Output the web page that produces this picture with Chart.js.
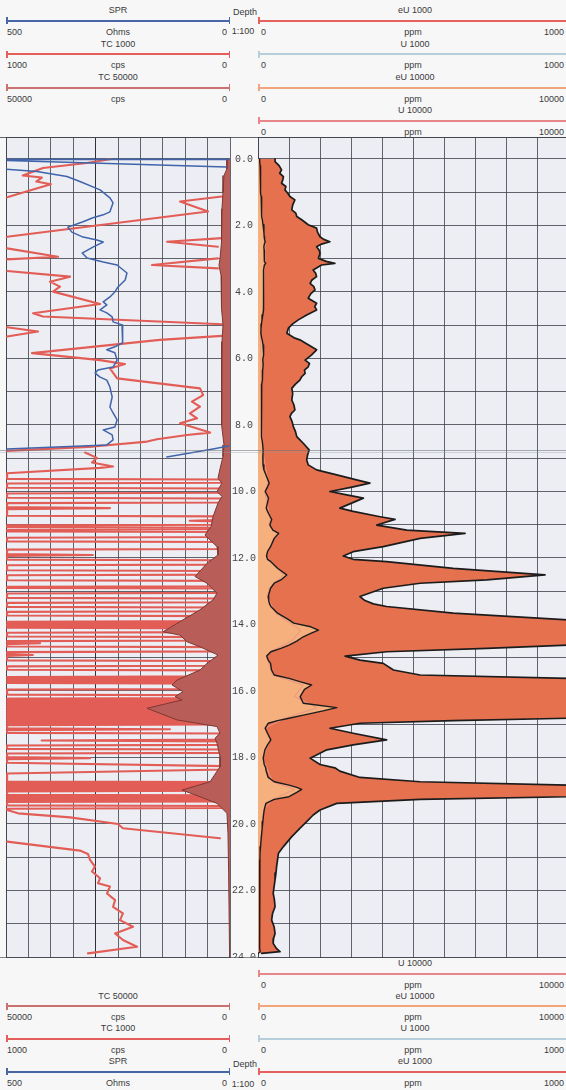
<!DOCTYPE html>
<html>
<head>
<meta charset="utf-8">
<script src="https://cdn.jsdelivr.net/npm/chart.js@4.4.1/dist/chart.umd.min.js"></script>
<style>
  html, body { margin: 0; padding: 0; }
  body {
    width: 566px; height: 1090px; overflow: hidden; position: relative;
    background: #f7f7f8; color: #3a3a3a;
    font-family: "Liberation Sans", Arial, sans-serif; font-size: 9px;
  }
  canvas { position: absolute; }
  .t { position: absolute; white-space: nowrap; line-height: 10px; }
  .bar, .tick, .rule { position: absolute; }
</style>
</head>
<body>
<canvas id="leftTrack" width="226" height="821" style="left:5px;top:137px"></canvas>
<canvas id="rightTrack" width="340" height="821" style="left:231px;top:137px"></canvas>
<script>
// ---------------- curve headers ----------------
const leftScales = [
  { name: 'SPR',      unit: 'Ohms', left: '500',   right: '0', color: '#4767a6' },
  { name: 'TC 1000',  unit: 'cps',  left: '1000',  right: '0', color: '#e45f5c' },
  { name: 'TC 50000', unit: 'cps',  left: '50000', right: '0', color: '#c9726e' }
];
const rightScales = [
  { name: 'eU 1000',  unit: 'ppm', left: '0', right: '1000',  color: '#e5625e' },
  { name: 'U 1000',   unit: 'ppm', left: '0', right: '1000',  color: '#b7cfdc' },
  { name: 'eU 10000', unit: 'ppm', left: '0', right: '10000', color: '#f2a57a' },
  { name: 'U 10000',  unit: 'ppm', left: '0', right: '10000', color: '#e8878a' }
];
const depthTitle = ['Depth', '1:100'];

// ---------------- depth grid (m) ----------------
const depthGrid = [0,1,2,3,4,5,6,7,8,9,10,11,12,13,14,15,16,17,18,19,20,21,22,23,24];

// ---------------- log curves: [depth m, value] ; [null,null] = pen lifted ----------------
const sprLog = [
  [0.02,3],[0.02,497],[null,null],[0.05,497],[0.24,8],[null,null],
  [0.31,499],[0.38,431],[0.53,364],[0.68,335],[0.93,290],[1.17,268],[1.32,261],[1.59,268],
  [1.68,283],[1.77,306],[1.89,328],[2.05,362],[2.20,353],[2.35,328],[2.44,297],[2.50,283],
  [2.65,306],[2.83,330],[2.98,319],[3.10,283],[3.19,252],[3.43,230],[3.64,234],[3.85,250],
  [4.00,257],[4.15,268],[4.30,283],[4.39,275],[4.54,290],[4.63,275],[4.75,263],[4.90,261],
  [4.99,241],[5.14,239],[5.35,239],[5.53,241],[5.65,257],[5.74,275],[5.83,257],[6.05,252],
  [6.26,261],[6.35,295],[6.44,301],[6.56,290],[6.65,275],[6.86,268],[7.16,263],[7.46,268],
  [7.64,261],[7.85,252],[8.06,257],[8.15,283],[8.30,263],[8.45,261],[8.60,275],[8.72,498],
  [null,null],[8.63,3],[8.72,38],[8.96,141]
];

const tc1000Log = [
  [0.01,536],[0.12,640],[0.27,835],[0.50,925],[0.56,840],[0.68,865],[0.76,800],[1.15,995],[null,null],
  [1.13,36],[1.28,223],[1.58,98],[2.34,995],[null,null],
  [2.38,36],[2.49,281],[2.64,54],[null,null],
  [2.69,995],[2.94,768],[3.02,995],[null,null],
  [2.99,54],[3.19,348],[3.29,54],[null,null],
  [3.37,995],[3.54,714],[3.69,804],[3.84,759],[3.99,790],[4.36,580],[4.64,879],[4.74,835],[4.97,36],[null,null],
  [5.06,995],[5.19,857],[5.34,995],[null,null],
  [5.32,36],[5.44,313],[5.84,884],[6.05,580],[6.17,469],[6.30,536],[6.60,504],[6.90,134],[7.10,120],
  [7.30,170],[7.45,134],[7.65,179],[7.80,147],[7.95,223],[8.23,89],[8.30,192],[8.43,326],[8.50,370],
  [8.65,610],[8.78,995],[null,null],
  [8.83,647],[8.99,594],[9.13,616],[9.25,522],[9.29,580],[9.45,995],
  [9.62,995],[9.64,20],[9.74,20],[9.76,995],[9.89,995],[9.91,20],[10.04,20],[10.06,995],
  [10.19,995],[10.21,20],[10.33,20],[10.35,995],[10.47,995],[10.50,536],[10.53,995],
  [10.73,995],[10.75,20],[10.85,20],[10.88,180],[10.91,20],[11.00,20],[11.02,995],
  [11.07,995],[11.09,20],[11.13,20],[11.15,995],[11.20,995],[11.22,20],[11.37,20],[11.39,995],
  [11.50,995],[11.52,20],[11.73,20],[11.75,995],[11.88,995],[11.91,612],[11.94,995],
  [12.05,995],[12.07,20],[12.20,20],[12.22,995],[12.37,995],[12.39,20],[12.50,20],[12.52,995],
  [12.67,995],[12.69,20],[12.85,20],[12.87,995],[12.90,995],[12.92,20],[13.05,20],[13.07,995],
  [13.20,995],[13.22,20],[13.33,20],[13.35,995],[13.47,995],[13.49,20],[13.60,20],[13.62,995],
  [13.73,995],[13.75,20],[13.90,20],[13.92,995],[13.94,995],[13.96,20],[13.98,20],[14.00,995],
  [14.02,995],[14.04,20],[14.06,20],[14.08,995],[14.10,995],[14.12,20],[14.23,20],[14.25,995],
  [14.36,995],[14.38,20],[14.48,20],[14.50,995],[14.53,995],[14.56,848],[14.59,995],
  [14.66,995],[14.68,20],[14.81,20],[14.83,995],[14.89,995],[14.92,880],[14.95,995],
  [15.08,995],[15.10,20],[15.24,20],[15.26,995],[15.36,995],[15.38,20],[15.56,20],[15.58,995],
  [15.60,995],[15.62,20],[15.64,20],[15.66,995],[15.68,995],[15.70,20],[15.72,20],[15.74,995],
  [15.76,995],[15.78,20],[15.94,20],[15.96,995],[16.11,995],[16.13,20],[16.21,20],[16.23,995],
  [16.25,995],[16.27,20],[16.29,20],[16.31,995],[16.33,995],[16.35,20],[16.37,20],[16.39,995],
  [16.41,995],[16.43,20],[16.45,20],[16.47,995],[16.49,995],[16.51,20],[16.53,20],[16.55,995],
  [16.57,995],[16.59,20],[16.61,20],[16.63,995],[16.65,995],[16.67,20],[16.69,20],[16.71,995],
  [16.73,995],[16.75,20],[16.77,20],[16.79,995],[16.81,995],[16.83,20],[16.85,20],[16.87,995],
  [16.89,995],[16.91,20],[16.93,20],[16.95,995],[16.97,995],[16.99,20],[17.01,20],[17.03,995],
  [17.12,995],[17.15,268],[17.18,995],[17.26,995],[17.28,20],[17.46,20],[17.49,841],[17.52,20],
  [17.62,20],[17.64,995],[17.74,995],[17.76,20],[17.86,20],[17.88,995],[17.99,995],[18.02,625],[18.05,995],
  [18.16,995],[18.26,20],[18.36,20],[18.48,995],[18.72,995],[18.74,20],[18.76,20],[18.78,995],
  [18.80,995],[18.82,20],[18.84,20],[18.86,995],[18.88,995],[18.90,20],[18.92,20],[18.94,995],
  [18.96,995],[18.98,20],[19.00,20],[19.02,995],[19.12,995],[19.14,20],[19.16,20],[19.18,995],
  [19.20,995],[19.22,20],[19.24,20],[19.26,995],[19.28,995],[19.30,20],[19.32,20],[19.34,995],
  [19.44,995],[19.46,20],[19.52,20],[19.54,995],
  [19.58,995],[19.68,946],[19.80,714],[20.00,500],[20.13,478],[20.43,45],[null,null],
  [20.53,995],[20.80,670],[20.90,634],[21.08,625],[21.28,603],[21.43,616],[21.63,580],[21.78,589],
  [21.88,536],[22.09,549],[22.29,513],[22.49,522],[22.69,478],[22.89,491],[23.09,433],[23.29,513],
  [23.49,478],[23.69,415],[23.89,634]
];

const tc50000Log = [
  [0.00,670],[0.30,700],[0.50,1340],[1.00,1560],[1.50,1790],[2.00,2000],[2.50,1790],[3.00,2230],
  [3.20,2450],[3.50,2000],[4.00,1790],[4.50,2000],[5.00,1560],[5.50,1790],[6.00,1790],[6.50,1900],
  [7.00,1790],[7.50,1900],[8.00,2000],[8.60,1340],[8.95,1560],[9.30,2200],[9.60,2680],[9.75,1790],
  [10.00,2900],[10.15,1790],[10.35,2680],[10.76,3800],[11.05,4200],[11.31,5580],[11.66,2900],
  [11.91,2680],[12.16,5130],[12.56,7810],[12.76,5130],[13.06,2900],[13.26,3800],[13.56,6700],
  [13.86,10490],[14.22,14950],[14.32,11160],[14.52,9600],[14.67,6700],[14.92,2680],[15.17,5130],
  [15.37,6700],[15.67,11830],[15.82,12950],[16.02,10490],[16.17,12280],[16.27,10710],[16.52,18530],
  [16.87,11830],[17.07,2900],[17.27,2230],[17.42,3350],[17.57,2900],[17.97,2230],[18.28,2230],
  [18.73,4460],[18.98,10710],[19.18,6700],[19.38,2900],[19.68,670],[20.28,450],[21.50,300],
  [23.88,100],[24.00,100]
];

const euLog = [
  [0.00,55],[0.08,55],[0.20,68],[0.33,76],[0.43,70],[0.53,82],[0.63,80],[0.73,76],[0.83,90],[0.93,87],
  [1.03,96],[1.13,103],[1.23,119],[1.38,112],[1.53,109],[1.63,122],[1.73,125],[1.83,141],[1.98,162],
  [2.08,189],[2.20,192],[2.34,200],[2.42,212],[2.49,232],[2.56,205],[2.64,189],[2.74,197],[2.84,200],
  [2.99,195],[3.08,220],[3.14,248],[3.19,205],[3.34,178],[3.44,186],[3.54,189],[3.64,174],[3.74,168],
  [3.84,180],[3.94,184],[4.06,170],[4.19,162],[4.34,189],[4.44,183],[4.54,189],[4.69,157],[4.84,130],
  [4.96,112],[5.09,98],[5.24,93],[5.39,119],[5.44,135],[5.59,162],[5.74,189],[5.89,173],[6.05,152],
  [6.15,166],[6.25,162],[6.35,150],[6.45,152],[6.55,141],[6.65,135],[6.78,120],[6.90,109],[7.05,112],
  [7.25,109],[7.40,116],[7.55,119],[7.65,108],[7.75,103],[7.90,110],[8.05,114],[8.20,121],[8.35,125],
  [8.55,146],[8.75,165],[8.90,160],[9.05,157],[9.20,162],[9.35,189],[9.50,254],[9.65,318],[9.75,361],
  [9.86,307],[10.00,232],[10.10,286],[10.20,340],[10.35,302],[10.50,264],[10.60,307],[10.76,394],
  [10.84,442],[11.01,383],[11.16,480],[11.26,668],[11.41,523],[11.66,404],[11.81,307],[11.94,275],
  [12.04,307],[12.11,415],[12.31,630],[12.51,926],[12.66,738],[12.76,523],[12.91,404],[13.16,329],
  [13.28,345],[13.38,372],[13.46,415],[13.66,630],[13.86,1000],[13.96,1150],[14.07,1700],[14.17,1950],
  [14.27,1700],[14.37,1460],[14.50,1250],[14.62,1000],[14.72,738],[14.82,415],[14.95,281],[15.07,329],
  [15.17,404],[15.37,437],[15.52,523],[15.62,1000],[15.72,1350],[15.82,1730],[15.95,1500],[16.17,1360],
  [16.37,1460],[16.50,2540],[16.60,2100],[16.72,1500],[16.82,1000],[16.89,630],[16.97,329],[17.12,232],
  [17.27,307],[17.47,415],[17.62,307],[17.77,222],[18.02,168],[18.21,200],[18.31,248],[18.41,264],
  [18.60,329],[18.73,523],[18.83,1000],[18.90,1250],[18.96,1410],[19.05,1250],[19.18,1000],[19.26,523],
  [19.38,254],[19.58,200],[19.73,178],[19.93,157],[20.13,135],[20.38,109],[20.68,82],[20.88,66],
  [21.08,63],[21.28,60],[21.48,58],[21.68,55],[21.88,52],[22.08,49],[22.28,53],[22.49,55],[22.69,47],
  [22.89,44],[23.09,52],[23.29,55],[23.45,50],[23.59,49],[23.75,60],[23.84,71],[23.89,12]
];

const uLog = [
  [0.00,50],[1.00,90],[2.49,205],[3.14,220],[4.34,170],[5.24,85],[6.90,100],[8.75,150],[9.75,330],
  [10.00,215],[10.84,400],[11.01,350],[11.26,600],[11.94,255],[12.51,820],[12.91,370],[13.16,305],
  [13.66,560],[13.86,880],[14.17,1380],[14.50,1080],[14.82,380],[14.95,265],[15.52,470],[15.82,1450],
  [16.17,1180],[16.50,1900],[16.82,880],[17.12,215],[17.47,380],[18.02,155],[18.73,470],[18.96,1180],
  [19.26,480],[19.58,185],[20.38,100],[21.28,55],[22.89,42],[23.89,12]
];

// ---------------- shared styling ----------------
const GRID = 'rgba(62,64,74,0.8)';
const GRID_DARK = 'rgba(36,38,46,0.95)';
const TRACK_BG = '#eceef4';

Chart.defaults.font.family = "'Liberation Sans', Arial, sans-serif";

const pts = log => log.map(([d, v]) => ({ x: v, y: d }));

// paints the plotting area of a track
const trackBg = {
  id: 'trackBg',
  beforeDraw(chart, args, opts) {
    const { ctx, chartArea: a } = chart;
    ctx.save();
    ctx.fillStyle = opts.color;
    ctx.fillRect(a.left, a.top, a.right - a.left, a.bottom - a.top);
    ctx.restore();
  }
};

function depthAxis(labelled) {
  return {
    type: 'linear', position: 'left', reverse: true, min: -0.66, max: 24.03,
    afterBuildTicks: s => { s.ticks = depthGrid.map(v => ({ value: v })); },
    grid: { color: GRID, lineWidth: 1, drawTicks: false },
    border: { display: true, color: GRID, width: 1 },
    ticks: {
      display: labelled, autoSkip: false, padding: 2, crossAlign: 'center',
      color: '#454545', font: { family: "'Liberation Mono', 'DejaVu Sans Mono', monospace", size: 10 },
      callback: v => (v % 2 === 0 ? v.toFixed(1) : '')
    },
    afterFit: s => { s.width = labelled ? 27 : 0; s.paddingTop = 0; s.paddingBottom = 0; }
  };
}

function gridAxis(max, step, reverse, darkAt) {
  return {
    type: 'linear', position: 'top', min: 0, max, reverse,
    ticks: { display: false, stepSize: step, autoSkip: false },
    grid: {
      lineWidth: 1, drawTicks: false,
      color: c => (c.tick && c.tick.value === darkAt ? GRID_DARK : GRID)
    },
    border: { display: true, color: GRID },
    afterFit: s => { s.height = 0; s.paddingLeft = 0; s.paddingRight = 0; }
  };
}

const common = {
  indexAxis: 'y', responsive: false, animation: false, devicePixelRatio: 1,
  spanGaps: false,
  elements: {
    point: { radius: 0, hitRadius: 0, hoverRadius: 0 },
    line: { tension: 0, fill: false, borderJoinStyle: 'round', borderCapStyle: 'round' }
  },
  events: []
};

// ---------------- left track: SPR, TC 1000, TC 50000 ----------------
new Chart(document.getElementById('leftTrack'), {
  type: 'line',
  data: {
    datasets: [
      { label: 'SPR', data: pts(sprLog), xAxisID: 'xSpr',
        borderColor: '#3f64ab', borderWidth: 1.5, order: 0 },
      { label: 'TC 50000', data: pts(tc50000Log), xAxisID: 'xTc50',
        borderColor: '#7c3934', borderWidth: 1, backgroundColor: '#b85d57', fill: 'origin', order: 1 },
      { label: 'TC 1000', data: pts(tc1000Log), xAxisID: 'xTc',
        borderColor: '#e35d57', borderWidth: 2.1, order: 2 }
    ]
  },
  options: Object.assign({}, common, {
    layout: { padding: { left: 1, right: 1 } },
    plugins: { legend: { display: false }, tooltip: { enabled: false }, trackBg: { color: TRACK_BG } },
    scales: {
      y: depthAxis(false),
      xTc: gridAxis(1000, 100, true, 600),
      xSpr: { type: 'linear', min: 0, max: 500, reverse: true, display: false },
      xTc50: { type: 'linear', min: 0, max: 50000, reverse: true, display: false }
    }
  }),
  plugins: [trackBg]
});

// ---------------- right track: eU 1000, eU 10000, U 10000 ----------------
new Chart(document.getElementById('rightTrack'), {
  type: 'line',
  data: {
    datasets: [
      { label: 'eU 10000', data: pts(euLog), xAxisID: 'xEu10k',
        borderColor: '#1c1c1c', borderWidth: 1.4, backgroundColor: '#f5b07e', fill: 'origin', order: 1 },
      { label: 'U 10000', data: pts(uLog), xAxisID: 'xEu10k',
        borderColor: '#ec9582', borderWidth: 1, order: 1.5 },
      { label: 'eU 1000', data: pts(euLog), xAxisID: 'xEu1k',
        borderColor: '#1c1c1c', borderWidth: 1.7, backgroundColor: '#e5714f', fill: 'origin', order: 2 }
    ]
  },
  options: Object.assign({}, common, {
    layout: { padding: { right: 3 } },
    plugins: {
      legend: { display: false }, tooltip: { enabled: false },
      filler: { drawTime: 'beforeDatasetsDraw' },
      trackBg: { color: TRACK_BG }
    },
    scales: {
      y: depthAxis(true),
      xEu1k: gridAxis(1000, 100, false, null),
      xEu10k: { type: 'linear', min: 0, max: 10000, display: false }
    }
  }),
  plugins: [trackBg]
});

// ---------------- header / footer scale boxes ----------------
function el(cls, css, text) {
  const d = document.createElement('div');
  d.className = cls;
  Object.assign(d.style, css);
  if (text !== undefined) d.textContent = text;
  document.body.appendChild(d);
  return d;
}
function txt(x, y, s, align) {
  const css = { top: y + 'px' };
  if (align === 'c') { css.left = x + 'px'; css.transform = 'translate(-50%,-50%)'; }
  else if (align === 'r') { css.right = (566 - x) + 'px'; css.transform = 'translateY(-50%)'; }
  else { css.left = x + 'px'; css.transform = 'translateY(-50%)'; }
  return el('t', css, s);
}
function scaleBox(s, y, side) {
  const L = side === 'L';
  const x0 = L ? 6 : 258, x1 = L ? 230 : 566;
  const mid = L ? 118 : 415;
  txt(mid, y, s.name, 'c');
  el('bar', { left: x0 + 'px', top: (y + 9.5) + 'px', width: (x1 - x0) + 'px', height: '2px', background: s.color });
  el('tick', { left: x0 + 'px', top: (y + 7) + 'px', width: '1.5px', height: '7px', background: s.color });
  if (L) el('tick', { left: (x1 - 1.5) + 'px', top: (y + 7) + 'px', width: '1.5px', height: '7px', background: s.color });
  txt(L ? 7 : 261, y + 21.5, s.left, 'l');
  txt(mid - (L ? 0 : 2), y + 21.5, s.unit, 'c');
  txt(L ? 227 : 564, y + 21.5, s.right, 'r');
}

const topRows = [10, 43.5, 77, 110];
leftScales.forEach((s, i) => scaleBox(s, topRows[i], 'L'));
rightScales.forEach((s, i) => scaleBox(s, topRows[i], 'R'));
const footRows = [963, 995.5, 1028, 1061];
rightScales.slice().reverse().forEach((s, i) => scaleBox(s, footRows[i], 'R'));
leftScales.slice().reverse().forEach((s, i) => scaleBox(s, footRows[i + 1], 'L'));

txt(245, 12, depthTitle[0], 'c');
txt(243, 31, depthTitle[1], 'c');
txt(245, 1064, depthTitle[0], 'c');
txt(243, 1084, depthTitle[1], 'c');

// frame rules across the log body and the paper join
el('rule', { left: '0px', top: '136.5px', width: '566px', height: '1px', background: 'rgba(60,62,70,0.8)' });
el('rule', { left: '0px', top: '957px', width: '566px', height: '1px', background: 'rgba(60,62,70,0.6)' });
el('rule', { left: '0px', top: '450px', width: '566px', height: '1px', background: 'rgba(110,112,122,0.55)' });
el('rule', { left: '0px', top: '452px', width: '566px', height: '1px', background: 'rgba(150,152,160,0.35)' });
</script>
</body>
</html>
